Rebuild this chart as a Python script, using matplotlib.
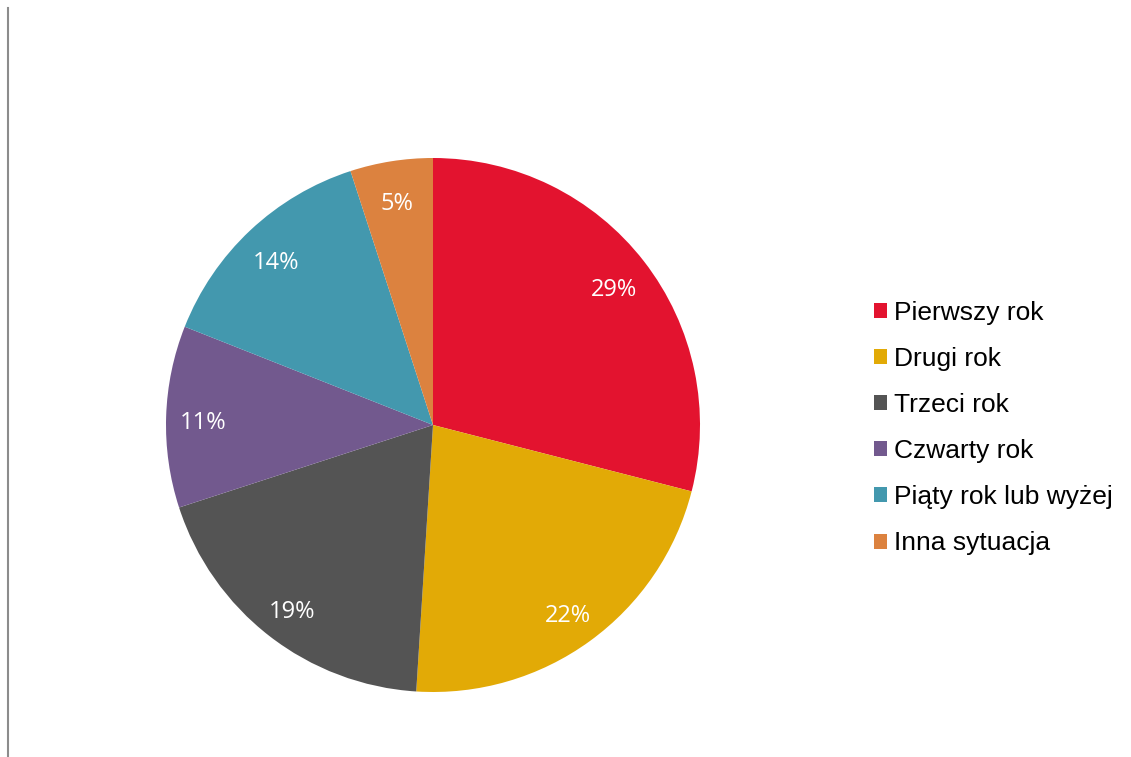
import matplotlib.pyplot as plt
from matplotlib.patches import Patch
from matplotlib.lines import Line2D

# Dane
categories = ['Pierwszy rok', 'Drugi rok', 'Trzeci rok', 'Czwarty rok',
              'Piąty rok lub wyżej', 'Inna sytuacja']
shares = [29, 22, 19, 11, 14, 5]
colors = ['#E3132F', '#E2AA06', '#545454', '#72598E', '#4398AE', '#DC823F']

fig = plt.figure(figsize=(11.31, 7.57), dpi=100)

# Pozycja koła: środek (433, 425) px, promień ~267 px
r_px = 267
ax = fig.add_axes([(433 - r_px) / 1131, (757 - 425 - r_px) / 757,
                   2 * r_px / 1131, 2 * r_px / 757])

wedges, texts, autotexts = ax.pie(
    shares, colors=colors, startangle=90, counterclock=False,
    autopct='%d%%', pctdistance=0.86, radius=1,
    wedgeprops=dict(linewidth=0),
    textprops=dict(color='white', fontsize=17, family='Open Sans'))
# etykiety lekko niżej, jak w oryginale
for t in autotexts:
    x, y = t.get_position()
    t.set_position((x, y - 0.02))
ax.set_xlim(-1, 1)
ax.set_ylim(-1, 1)
ax.set_aspect('equal')
ax.axis('off')

# Legenda
handles = [Patch(facecolor=c, edgecolor='none') for c in colors]
fig.legend(handles, categories, loc='center left',
           bbox_to_anchor=(850 / 1131, (757 - 428) / 757),
           frameon=False, handlelength=0.5, handleheight=0.5,
           handletextpad=0.25, labelspacing=0.84,
           prop=dict(family='Liberation Sans', size=19))

# Pionowa linia po lewej
fig.add_artist(Line2D([7.5 / 1131, 7.5 / 1131], [0, 749 / 757],
                      color='#8C8C8C', linewidth=1.5))

fig.savefig('out.png', dpi=100)
